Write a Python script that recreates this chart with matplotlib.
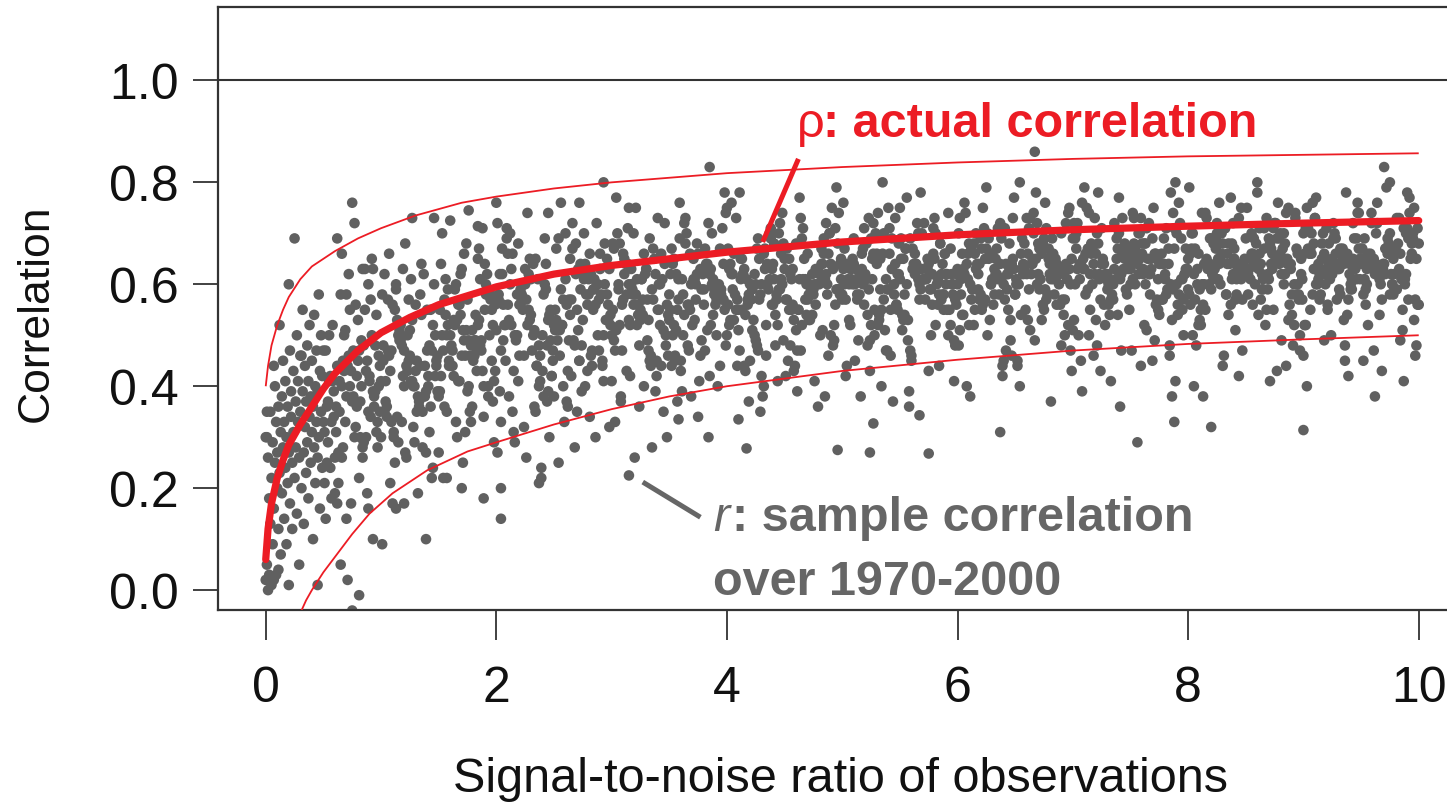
import matplotlib
matplotlib.use("Agg")
import matplotlib.pyplot as plt
import numpy as np

plt.rcParams['font.family'] = ['Liberation Sans', 'DejaVu Sans']

# ---------------- curves ----------------
rho_x = [0.0, 0.02, 0.05, 0.1, 0.15, 0.2, 0.3, 0.4, 0.5, 0.6, 0.8, 1.0, 1.25, 1.5,
         2.0, 2.5, 3.0, 4.0, 5.0, 6.0, 7.0, 8.0, 9.0, 10.0]
rho_y = [0.06, 0.12, 0.17, 0.22, 0.255, 0.285, 0.325, 0.36, 0.395, 0.425, 0.47, 0.505,
         0.535, 0.56, 0.595, 0.62, 0.637, 0.663, 0.683, 0.697, 0.707, 0.714, 0.72, 0.725]

upper_x = [0.0, 0.02, 0.05, 0.1, 0.15, 0.2, 0.3, 0.4, 0.6, 0.8, 1.0, 1.3, 1.7, 2.0,
           2.5, 3.0, 4.0, 5.0, 6.0, 7.0, 8.0, 9.0, 10.0]
upper_y = [0.40, 0.44, 0.48, 0.52, 0.55, 0.575, 0.61, 0.635, 0.665, 0.69, 0.71, 0.735,
           0.76, 0.772, 0.788, 0.80, 0.818, 0.83, 0.839, 0.846, 0.851, 0.854, 0.857]

lower_x = [0.30, 0.35, 0.4, 0.5, 0.6, 0.75, 0.9, 1.1, 1.4, 1.75, 2.0, 2.5, 3.0, 3.5,
           4.0, 5.0, 6.0, 7.0, 8.0, 9.0, 10.0]
lower_y = [-0.045, -0.02, 0.0, 0.035, 0.065, 0.11, 0.15, 0.19, 0.235, 0.272, 0.29,
           0.325, 0.355, 0.38, 0.40, 0.43, 0.452, 0.47, 0.483, 0.492, 0.50]

# ---------------- scatter points (signal-to-noise, sample correlation) ----------------
pts_00 = [(0.17,.24),(0.03,.03),(0.41,.36),(0.28,.41),(0.09,.33),(0.35,.23),(0.22,.39),(0.46,.58),(0.00,.30),(0.14,.19),(0.31,.46),(0.06,.29),(0.39,.25),(0.25,.69),(0.11,.36),(0.48,.35),(0.19,.21),(0.33,.27),(0.02,.26),(0.44,.47),(0.27,.15),(0.08,.40),(0.37,.41),(0.13,.07),(0.49,.42),(0.21,.47),(0.04,.13),(0.30,.35),(0.42,.28),(0.16,.33),(0.01,.35),(0.36,.48),(0.24,.31),(0.10,.20),(0.45,.39),(0.29,.26),(0.07,.44),(0.40,.31),(0.18,.30),(0.34,.44),(0.12,.52),(0.47,.43),(0.23,.12),(0.05,.22),(0.38,.34),(0.26,.37),(0.15,.28),(0.43,.21),(0.32,.39),(0.20,.60),
          (0.29,.05),(0.12,.23),(0.44,.33),(0.05,.01),(0.37,.18),(0.20,.27),(0.48,.50),(0.01,.05),(0.33,.13),(0.16,.14),(0.41,.10),(0.08,.25),(0.25,.22),(0.46,.30),(0.03,.18),(0.30,.46),(0.18,.09),(0.39,.38),(0.10,.27),(0.49,.24),(0.22,.34),(0.35,.37),(0.00,.02),(0.27,.50),(0.14,.38),(0.43,.40),(0.06,.09),(0.32,.55),(0.19,.36),(0.47,.16),(0.09,.03),(0.38,.52),(0.24,.43),(0.02,.00),(0.45,.26),(0.15,.45),(0.28,.33),(0.40,.45),(0.11,.12),(0.34,.32),(0.21,.17),(0.04,.35),(0.42,.54),(0.26,.28),(0.13,.31),(0.36,.29),(0.07,.16),(0.31,.20),(0.17,.41),(0.23,.25),
          (0.20,.01),(0.45,.01),(0.07,.02),(0.11,.04),(0.01,.30)]
pts_05 = [(0.73,.40),(0.67,.28),(0.81,.47),(0.57,.33),(0.86,.55),(0.63,.21),(0.76,.38),(0.92,.50),(0.54,.29),(0.71,.44),(0.84,.26),(0.61,.36),(0.90,.42),(0.78,.32),(0.65,.58),(0.95,.39),(0.52,.47),(0.74,.17),(0.88,.45),(0.59,.34),(0.97,.28),(0.69,.51),(0.82,.37),(0.56,.24),(0.93,.63),(0.64,.41),(0.77,.30),(0.50,.33),(0.85,.48),(0.72,.62),(0.99,.44),(0.60,.19),(0.89,.35),(0.68,.43),(0.80,.53),(0.53,.36),(0.96,.31),(0.75,.76),(0.58,.41),(0.91,.57),(0.66,.26),(0.83,.40),(0.51,.21),(0.98,.46),(0.70,.38),(0.87,.30),(0.55,.50),(0.94,.36),(0.62,.69),(0.79,.42),
          (0.67,.45),(0.53,.25),(0.91,.34),(0.78,.56),(0.59,.39),(0.85,.29),(0.72,.46),(0.96,.54),(0.50,.47),(0.64,.35),(0.81,.22),(0.56,.42),(0.89,.60),(0.75,.37),(0.61,.31),(0.98,.40),(0.69,.33),(0.83,.49),(0.52,.14),(0.94,.38),(0.77,.72),(0.58,.52),(0.87,.43),(0.63,.27),(0.99,.35),(0.71,.02),(0.54,.37),(0.80,.45),(0.93,.10),(0.66,.40),(0.51,.31),(0.86,.63),(0.74,.43),(0.60,.26),(0.95,.48),(0.79,.36),(0.57,.18),(0.90,.41),(0.68,.50),(0.84,.28),(0.62,.44),(0.97,.33),(0.73,.55),(0.55,.41),(0.88,.19),(0.76,.47),(0.65,.05),(0.93,.39),(0.82,.30),(0.70,.58),
          (0.75,-.04),(0.81,-.01),(0.62,.17),(0.70,.14),(0.89,.16),(0.66,.66),(0.92,.65),(0.84,.63)]
pts_10 = [(1.20,.47),(1.32,.38),(1.43,.55),(1.15,.29),(1.26,.61),(1.38,.44),(1.05,.36),(1.23,.50),(1.47,.42),(1.12,.25),(1.34,.58),(1.18,.33),(1.40,.47),(1.07,.66),(1.29,.40),(1.45,.52),(1.10,.17),(1.24,.45),(1.36,.35),(1.01,.09),(1.16,.49),(1.42,.31),(1.30,.56),(1.04,.41),(1.21,.27),(1.49,.46),(1.13,.60),(1.37,.38),(1.08,.43),(1.27,.53),(1.44,.22),(1.02,.48),(1.33,.36),(1.19,.63),(1.48,.44),(1.11,.30),(1.25,.51),(1.39,.39),(1.06,.57),(1.31,.45),(1.14,.34),(1.00,.41),(1.46,.73),(1.22,.26),(1.35,.54),(1.09,.47),(1.28,.32),(1.41,.40),(1.03,.62),(1.17,.49),
          (1.23,.43),(1.17,.52),(1.31,.35),(1.07,.46),(1.36,.28),(1.13,.59),(1.26,.41),(1.42,.48),(1.04,.37),(1.21,.68),(1.34,.44),(1.11,.31),(1.40,.55),(1.28,.40),(1.15,.50),(1.45,.24),(1.02,.45),(1.24,.57),(1.38,.38),(1.09,.33),(1.47,.50),(1.19,.42),(1.32,.19),(1.06,.47),(1.43,.36),(1.14,.53),(1.27,.41),(1.00,.30),(1.35,.64),(1.22,.44),(1.49,.39),(1.10,.56),(1.39,.27),(1.18,.48),(1.30,.43),(1.03,.35),(1.46,.60),(1.25,.46),(1.08,.21),(1.41,.42),(1.16,.51),(1.33,.37),(1.01,.58),(1.48,.45),(1.20,.40),(1.37,.62),(1.05,.34),(1.44,.47),(1.12,.55),(1.29,.29),
          (1.39,.10),(1.13,.16),(1.20,.17),(1.27,.73)]
pts_15 = [(1.79,.51),(1.62,.44),(1.94,.58),(1.55,.36),(1.87,.49),(1.70,.63),(1.98,.41),(1.51,.55),(1.83,.47),(1.66,.30),(1.91,.60),(1.58,.52),(1.75,.39),(1.96,.45),(1.53,.70),(1.80,.48),(1.68,.56),(1.89,.34),(1.60,.50),(1.99,.43),(1.72,.66),(1.85,.53),(1.50,.27),(1.77,.46),(1.64,.59),(1.93,.40),(1.56,.54),(1.82,.49),(1.69,.62),(1.97,.37),(1.59,.45),(1.88,.71),(1.74,.51),(1.52,.42),(1.95,.57),(1.65,.33),(1.78,.48),(1.90,.64),(1.61,.44),(1.84,.52),(1.71,.25),(1.54,.47),(1.92,.58),(1.76,.40),(1.63,.53),(1.86,.61),(1.57,.35),(1.81,.49),(1.67,.56),(1.73,.46),
          (1.70,.46),(1.82,.54),(1.93,.38),(1.65,.60),(1.76,.49),(1.88,.43),(1.55,.57),(1.73,.31),(1.97,.52),(1.62,.47),(1.84,.65),(1.68,.41),(1.90,.55),(1.57,.50),(1.79,.36),(1.95,.58),(1.60,.44),(1.74,.68),(1.86,.48),(1.51,.39),(1.66,.53),(1.92,.62),(1.80,.45),(1.54,.22),(1.71,.51),(1.99,.56),(1.63,.42),(1.87,.47),(1.58,.59),(1.77,.35),(1.94,.50),(1.52,.64),(1.83,.43),(1.69,.54),(1.98,.29),(1.61,.48),(1.75,.57),(1.89,.40),(1.56,.61),(1.81,.46),(1.64,.52),(1.50,.38),(1.96,.55),(1.72,.49),(1.85,.67),(1.59,.44),(1.78,.33),(1.91,.58),(1.53,.50),(1.67,.41),
          (1.60,.725),(1.76,.745),(1.84,.714),(1.89,.18),(1.70,.20),(1.57,.22)]
pts_20 = [(2.17,.49),(2.03,.62),(2.41,.38),(2.28,.55),(2.09,.71),(2.35,.44),(2.22,.58),(2.46,.30),(2.00,.51),(2.14,.66),(2.31,.47),(2.06,.56),(2.39,.24),(2.25,.60),(2.11,.53),(2.48,.42),(2.19,.68),(2.33,.36),(2.02,.57),(2.44,.48),(2.27,.74),(2.08,.52),(2.37,.40),(2.13,.63),(2.49,.45),(2.21,.59),(2.04,.33),(2.30,.54),(2.42,.69),(2.16,.50),(2.01,.27),(2.36,.61),(2.24,.46),(2.10,.56),(2.45,.39),(2.29,.65),(2.07,.52),(2.40,.43),(2.18,.58),(2.34,.35),(2.12,.70),(2.47,.49),(2.23,.55),(2.05,.62),(2.38,.41),(2.26,.57),(2.15,.31),(2.43,.64),(2.32,.50),(2.20,.46),
          (2.29,.53),(2.12,.60),(2.44,.37),(2.05,.67),(2.37,.48),(2.20,.56),(2.48,.42),(2.01,.72),(2.33,.51),(2.16,.29),(2.41,.58),(2.08,.45),(2.25,.63),(2.46,.54),(2.03,.39),(2.30,.61),(2.18,.50),(2.39,.22),(2.10,.66),(2.49,.47),(2.22,.57),(2.35,.44),(2.00,.76),(2.27,.52),(2.14,.35),(2.43,.59),(2.06,.49),(2.32,.64),(2.19,.41),(2.47,.55),(2.09,.69),(2.38,.46),(2.24,.32),(2.02,.58),(2.45,.53),(2.15,.43),(2.28,.62),(2.40,.50),(2.11,.38),(2.34,.65),(2.21,.56),(2.04,.47),(2.42,.60),(2.26,.26),(2.13,.52),
          (2.04,.14),(2.04,.20),(2.37,.21),(2.45,.74)]
pts_25 = [(2.79,.56),(2.62,.43),(2.94,.68),(2.55,.51),(2.87,.60),(2.70,.35),(2.98,.63),(2.51,.55),(2.83,.47),(2.66,.72),(2.91,.58),(2.58,.40),(2.75,.53),(2.96,.65),(2.53,.49),(2.80,.61),(2.68,.28),(2.89,.57),(2.60,.70),(2.99,.52),(2.72,.45),(2.85,.59),(2.50,.38),(2.77,.64),(2.64,.54),(2.93,.50),(2.56,.76),(2.82,.46),(2.69,.62),(2.97,.56),(2.59,.33),(2.88,.60),(2.74,.48),(2.52,.67),(2.95,.53),(2.65,.42),(2.78,.58),(2.90,.63),(2.61,.37),(2.84,.55),(2.71,.51),(2.54,.69),(2.92,.44),(2.76,.61),(2.63,.57),(2.86,.30),(2.57,.52),(2.81,.66),(2.67,.49),(2.73,.59),
          (2.70,.55),(2.82,.62),(2.93,.41),(2.65,.57),(2.76,.70),(2.88,.50),(2.55,.46),(2.73,.64),(2.97,.53),(2.62,.36),(2.84,.59),(2.68,.48),(2.90,.66),(2.57,.52),(2.79,.43),(2.93,.80),(2.60,.61),(2.74,.39),(2.86,.56),(2.51,.51),(2.66,.67),(2.92,.45),(2.80,.58),(2.54,.25),(2.71,.63),(2.99,.54),(2.63,.49),(2.87,.72),(2.58,.57),(2.77,.40),(2.94,.60),(2.52,.53),(2.83,.44),(2.69,.68),(2.98,.32),(2.61,.56),(2.75,.62),(2.89,.47),(2.56,.59),(2.81,.34),(2.64,.65),(2.50,.52),(2.96,.58),(2.72,.45),(2.85,.61),
          (2.72,.76)]
pts_30 = [(3.20,.58),(3.32,.47),(3.43,.66),(3.15,.53),(3.26,.61),(3.38,.39),(3.05,.70),(3.23,.56),(3.47,.50),(3.12,.64),(3.34,.44),(3.18,.59),(3.40,.73),(3.07,.52),(3.29,.62),(3.45,.35),(3.10,.57),(3.24,.48),(3.36,.67),(3.01,.55),(3.16,.42),(3.42,.60),(3.30,.63),(3.04,.51),(3.21,.75),(3.49,.46),(3.13,.58),(3.37,.65),(3.08,.38),(3.27,.54),(3.44,.61),(3.02,.49),(3.33,.69),(3.19,.56),(3.48,.30),(3.11,.62),(3.25,.53),(3.39,.45),(3.06,.60),(3.31,.57),(3.14,.71),(3.00,.41),(3.46,.64),(3.22,.52),(3.35,.59),(3.09,.47),(3.28,.66),(3.41,.55),(3.03,.33),(3.17,.60),
          (3.23,.54),(3.17,.63),(3.31,.49),(3.07,.68),(3.36,.57),(3.13,.43),(3.26,.61),(3.42,.52),(3.04,.77),(3.21,.58),(3.34,.46),(3.11,.65),(3.40,.55),(3.28,.40),(3.15,.60),(3.45,.51),(3.02,.67),(3.24,.36),(3.38,.62),(3.09,.56),(3.47,.48),(3.19,.70),(3.32,.53),(3.06,.59),(3.43,.44),(3.14,.64),(3.27,.57),(3.00,.50),(3.35,.28),(3.22,.61),(3.49,.54),(3.10,.66),(3.39,.42),(3.18,.58),(3.30,.63),(3.03,.47),(3.46,.72),(3.25,.55),(3.08,.37),(3.41,.60),(3.16,.52),(3.33,.45),(3.01,.68),(3.48,.56),(3.20,.26),
          (3.15,.225),(3.15,.75)]
pts_35 = [(3.73,.60),(3.67,.47),(3.81,.67),(3.57,.55),(3.86,.63),(3.63,.72),(3.76,.41),(3.92,.58),(3.54,.52),(3.71,.65),(3.84,.30),(3.61,.61),(3.90,.56),(3.78,.49),(3.65,.70),(3.95,.59),(3.52,.44),(3.74,.62),(3.88,.54),(3.59,.76),(3.97,.57),(3.69,.38),(3.82,.64),(3.56,.51),(3.93,.60),(3.64,.68),(3.77,.46),(3.50,.58),(3.85,.62),(3.72,.53),(3.99,.74),(3.60,.43),(3.89,.59),(3.68,.66),(3.80,.56),(3.53,.50),(3.96,.71),(3.75,.34),(3.58,.61),(3.91,.57),(3.66,.48),(3.83,.64),(3.51,.55),(3.98,.78),(3.70,.52),(3.87,.60),(3.55,.45),(3.94,.67),(3.62,.58),(3.79,.62),
          (3.67,.56),(3.53,.64),(3.91,.50),(3.78,.59),(3.59,.69),(3.85,.42),(3.72,.61),(3.96,.57),(3.50,.53),(3.64,.73),(3.81,.47),(3.56,.62),(3.89,.58),(3.75,.66),(3.61,.39),(3.98,.55),(3.69,.60),(3.83,.51),(3.52,.67),(3.94,.44),(3.77,.63),(3.58,.57),(3.87,.70),(3.63,.54),(3.99,.48),(3.71,.61),(3.54,.65),(3.80,.59),(3.92,.40),(3.66,.56),(3.51,.62),(3.86,.52),(3.74,.68),(3.60,.45),(3.95,.58),(3.79,.63),(3.57,.37),(3.90,.60),(3.68,.55),(3.84,.72),(3.62,.50),(3.97,.64),(3.73,.57),(3.55,.46),(3.88,.61),
          (3.58,.335),(3.85,.83)]
pts_40 = [(4.17,.61),(4.03,.53),(4.41,.68),(4.28,.57),(4.09,.44),(4.35,.64),(4.22,.59),(4.46,.72),(4.00,.50),(4.14,.62),(4.31,.38),(4.06,.66),(4.39,.56),(4.25,.60),(4.11,.47),(4.48,.74),(4.19,.58),(4.33,.63),(4.02,.52),(4.44,.41),(4.27,.69),(4.08,.55),(4.37,.61),(4.13,.65),(4.49,.49),(4.21,.57),(4.04,.76),(4.30,.60),(4.42,.54),(4.16,.43),(4.01,.67),(4.36,.59),(4.24,.62),(4.10,.51),(4.45,.70),(4.29,.35),(4.07,.58),(4.40,.64),(4.18,.56),(4.34,.46),(4.12,.61),(4.47,.66),(4.23,.53),(4.05,.59),(4.38,.71),(4.26,.48),(4.15,.63),(4.43,.57),(4.32,.40),(4.20,.60),
          (4.29,.58),(4.12,.65),(4.44,.52),(4.05,.62),(4.37,.70),(4.20,.45),(4.48,.60),(4.01,.56),(4.33,.67),(4.16,.54),(4.41,.61),(4.08,.73),(4.25,.49),(4.46,.59),(4.03,.64),(4.30,.42),(4.18,.57),(4.39,.63),(4.10,.55),(4.49,.68),(4.22,.51),(4.35,.60),(4.00,.75),(4.27,.47),(4.14,.62),(4.43,.58),(4.06,.53),(4.32,.66),(4.19,.37),(4.47,.61),(4.09,.57),(4.38,.69),(4.24,.50),(4.02,.63),(4.45,.59),(4.15,.44),(4.28,.65),(4.40,.56),(4.11,.78),(4.34,.52),(4.21,.60),(4.04,.62),(4.42,.48),(4.26,.67),(4.13,.55),
          (4.10,.335),(4.17,.278)]
pts_45 = [(4.79,.63),(4.62,.55),(4.94,.71),(4.55,.48),(4.87,.60),(4.70,.66),(4.98,.58),(4.51,.42),(4.83,.64),(4.66,.61),(4.91,.75),(4.58,.53),(4.75,.59),(4.96,.68),(4.53,.45),(4.80,.62),(4.68,.57),(4.89,.70),(4.60,.51),(4.99,.65),(4.72,.60),(4.85,.38),(4.50,.63),(4.77,.56),(4.64,.73),(4.93,.49),(4.56,.61),(4.82,.67),(4.69,.54),(4.97,.59),(4.59,.44),(4.88,.66),(4.74,.62),(4.52,.57),(4.95,.79),(4.65,.52),(4.78,.60),(4.90,.64),(4.61,.47),(4.84,.69),(4.71,.58),(4.54,.55),(4.92,.63),(4.76,.41),(4.63,.61),(4.86,.72),(4.57,.56),(4.81,.50),(4.67,.65),(4.73,.59),
          (4.70,.57),(4.82,.64),(4.93,.52),(4.65,.69),(4.76,.60),(4.88,.46),(4.55,.62),(4.73,.58),(4.97,.74),(4.62,.55),(4.84,.66),(4.68,.61),(4.90,.50),(4.57,.63),(4.79,.36),(4.95,.59),(4.60,.68),(4.74,.54),(4.86,.62),(4.51,.57),(4.66,.71),(4.92,.48),(4.80,.60),(4.54,.65),(4.71,.53),(4.99,.61),(4.63,.77),(4.87,.58),(4.58,.43),(4.77,.63),(4.94,.56),(4.52,.67),(4.83,.51),(4.69,.60),(4.98,.64),(4.61,.39),(4.75,.58),(4.89,.70),(4.56,.55),(4.81,.62),(4.64,.47),(4.50,.65),(4.96,.59),(4.72,.53),(4.85,.61),
          (4.96,.275)]
pts_50 = [(5.20,.62),(5.32,.54),(5.43,.69),(5.15,.58),(5.26,.65),(5.38,.47),(5.05,.61),(5.23,.73),(5.47,.56),(5.12,.63),(5.34,.40),(5.18,.67),(5.40,.59),(5.07,.52),(5.29,.70),(5.45,.60),(5.10,.64),(5.24,.49),(5.36,.57),(5.01,.76),(5.16,.62),(5.42,.55),(5.30,.66),(5.04,.44),(5.21,.61),(5.49,.68),(5.13,.58),(5.37,.51),(5.08,.63),(5.27,.72),(5.44,.37),(5.02,.60),(5.33,.65),(5.19,.56),(5.48,.62),(5.11,.45),(5.25,.69),(5.39,.59),(5.06,.53),(5.31,.74),(5.14,.61),(5.00,.57),(5.46,.64),(5.22,.48),(5.35,.66),(5.09,.60),(5.28,.55),(5.41,.71),(5.03,.42),(5.17,.63),
          (5.23,.59),(5.17,.66),(5.31,.52),(5.07,.63),(5.36,.70),(5.13,.57),(5.26,.61),(5.42,.46),(5.04,.64),(5.21,.68),(5.34,.55),(5.11,.60),(5.40,.75),(5.28,.50),(5.15,.62),(5.45,.58),(5.02,.67),(5.24,.43),(5.38,.61),(5.09,.65),(5.47,.56),(5.19,.71),(5.32,.53),(5.06,.60),(5.43,.63),(5.14,.49),(5.27,.66),(5.00,.58),(5.35,.80),(5.22,.54),(5.49,.62),(5.10,.69),(5.39,.47),(5.18,.60),(5.30,.64),(5.03,.57),(5.46,.73),(5.25,.52),(5.08,.61),(5.41,.66),(5.16,.38),(5.33,.59),(5.01,.63),(5.48,.55),(5.20,.68),
          (5.24,.27),(5.27,.327)]
pts_55 = [(5.73,.63),(5.67,.57),(5.81,.70),(5.57,.49),(5.86,.62),(5.63,.66),(5.76,.59),(5.92,.74),(5.54,.54),(5.71,.61),(5.84,.44),(5.61,.67),(5.90,.60),(5.78,.56),(5.65,.72),(5.95,.62),(5.52,.51),(5.74,.65),(5.88,.58),(5.59,.69),(5.97,.41),(5.69,.63),(5.82,.60),(5.56,.77),(5.93,.55),(5.64,.64),(5.77,.50),(5.50,.61),(5.85,.68),(5.72,.57),(5.99,.62),(5.60,.46),(5.89,.66),(5.68,.59),(5.80,.73),(5.53,.53),(5.96,.60),(5.75,.64),(5.58,.36),(5.91,.62),(5.66,.70),(5.83,.56),(5.51,.65),(5.98,.48),(5.70,.61),(5.87,.58),(5.55,.67),(5.94,.52),(5.62,.63),(5.79,.71),
          (5.67,.60),(5.53,.65),(5.91,.55),(5.78,.62),(5.59,.47),(5.85,.68),(5.72,.61),(5.96,.58),(5.50,.75),(5.64,.64),(5.81,.52),(5.56,.60),(5.89,.66),(5.75,.43),(5.61,.63),(5.98,.57),(5.69,.70),(5.83,.61),(5.52,.54),(5.94,.67),(5.77,.59),(5.58,.39),(5.87,.64),(5.63,.62),(5.99,.56),(5.71,.72),(5.54,.58),(5.80,.65),(5.92,.50),(5.66,.61),(5.51,.69),(5.86,.57),(5.74,.63),(5.60,.45),(5.95,.60),(5.79,.66),(5.57,.53),(5.90,.62),(5.68,.78),(5.84,.58),(5.62,.64),(5.97,.49),(5.73,.61),(5.55,.67),(5.88,.55),
          (5.75,.268),(5.67,.343)]
pts_60 = [(6.17,.64),(6.03,.58),(6.41,.71),(6.28,.53),(6.09,.66),(6.35,.61),(6.22,.75),(6.46,.49),(6.00,.63),(6.14,.68),(6.31,.56),(6.06,.62),(6.39,.44),(6.25,.67),(6.11,.60),(6.48,.73),(6.19,.57),(6.33,.65),(6.02,.51),(6.44,.62),(6.27,.69),(6.08,.40),(6.37,.64),(6.13,.59),(6.49,.77),(6.21,.55),(6.04,.66),(6.30,.61),(6.42,.47),(6.16,.63),(6.01,.70),(6.36,.58),(6.24,.65),(6.10,.52),(6.45,.68),(6.29,.60),(6.07,.74),(6.40,.45),(6.18,.62),(6.34,.67),(6.12,.57),(6.47,.64),(6.23,.71),(6.05,.54),(6.38,.61),(6.26,.50),(6.15,.66),(6.43,.59),(6.32,.63),(6.20,.69),
          (6.29,.60),(6.12,.67),(6.44,.55),(6.05,.63),(6.37,.72),(6.20,.58),(6.48,.65),(6.01,.48),(6.33,.62),(6.16,.70),(6.41,.57),(6.08,.64),(6.25,.79),(6.46,.53),(6.03,.61),(6.30,.66),(6.18,.59),(6.39,.42),(6.10,.68),(6.49,.63),(6.22,.56),(6.35,.71),(6.00,.60),(6.27,.65),(6.14,.52),(6.43,.62),(6.06,.76),(6.32,.58),(6.19,.64),(6.47,.46),(6.09,.61),(6.38,.69),(6.24,.57),(6.02,.73),(6.45,.63),(6.15,.55),(6.28,.66),(6.40,.60),(6.11,.38),(6.34,.62),(6.21,.67),(6.04,.54),(6.42,.64),(6.26,.70),(6.13,.59),
          (6.37,.31)]
pts_65 = [(6.79,.65),(6.62,.59),(6.94,.72),(6.55,.54),(6.87,.63),(6.70,.68),(6.98,.47),(6.51,.61),(6.83,.66),(6.66,.74),(6.91,.57),(6.58,.63),(6.75,.69),(6.96,.52),(6.53,.60),(6.80,.64),(6.68,.78),(6.89,.56),(6.60,.62),(6.99,.43),(6.72,.67),(6.85,.61),(6.50,.58),(6.77,.71),(6.64,.64),(6.93,.50),(6.56,.63),(6.82,.66),(6.69,.60),(6.97,.75),(6.59,.55),(6.88,.62),(6.74,.68),(6.52,.45),(6.95,.61),(6.65,.65),(6.78,.58),(6.90,.70),(6.61,.53),(6.84,.63),(6.71,.67),(6.54,.40),(6.92,.62),(6.76,.59),(6.63,.73),(6.86,.56),(6.57,.64),(6.81,.61),(6.67,.49),(6.73,.66),
          (6.70,.62),(6.82,.69),(6.93,.57),(6.65,.64),(6.76,.76),(6.88,.60),(6.55,.66),(6.73,.53),(6.97,.63),(6.62,.71),(6.84,.58),(6.68,.65),(6.90,.48),(6.57,.62),(6.79,.67),(6.95,.61),(6.60,.73),(6.74,.56),(6.86,.64),(6.51,.60),(6.66,.70),(6.92,.54),(6.80,.62),(6.54,.80),(6.71,.59),(6.99,.65),(6.63,.51),(6.87,.63),(6.58,.68),(6.77,.57),(6.94,.64),(6.52,.44),(6.83,.61),(6.69,.72),(6.98,.60),(6.61,.66),(6.75,.55),(6.89,.63),(6.56,.69),(6.81,.37),(6.64,.62),(6.50,.58),(6.96,.74),(6.72,.61),(6.85,.65),
          (6.67,.86)]
pts_70 = [(7.20,.66),(7.32,.60),(7.43,.73),(7.15,.55),(7.26,.64),(7.38,.69),(7.05,.50),(7.23,.62),(7.47,.67),(7.12,.75),(7.34,.58),(7.18,.64),(7.40,.70),(7.07,.45),(7.29,.61),(7.45,.65),(7.10,.79),(7.24,.57),(7.36,.63),(7.01,.53),(7.16,.68),(7.42,.62),(7.30,.59),(7.04,.72),(7.21,.48),(7.49,.64),(7.13,.67),(7.37,.61),(7.08,.76),(7.27,.56),(7.44,.63),(7.02,.69),(7.33,.41),(7.19,.62),(7.48,.66),(7.11,.58),(7.25,.71),(7.39,.54),(7.06,.64),(7.31,.60),(7.14,.74),(7.00,.51),(7.46,.63),(7.22,.68),(7.35,.57),(7.09,.65),(7.28,.62),(7.41,.36),(7.03,.67),(7.17,.60),
          (7.23,.61),(7.17,.67),(7.31,.56),(7.07,.64),(7.36,.72),(7.13,.59),(7.26,.65),(7.42,.47),(7.04,.63),(7.21,.70),(7.34,.57),(7.11,.66),(7.40,.77),(7.28,.52),(7.15,.62),(7.45,.68),(7.02,.60),(7.24,.43),(7.38,.65),(7.09,.63),(7.47,.58),(7.19,.73),(7.32,.54),(7.06,.61),(7.43,.66),(7.14,.50),(7.27,.64),(7.00,.69),(7.35,.60),(7.22,.78),(7.49,.55),(7.10,.63),(7.39,.67),(7.18,.46),(7.30,.62),(7.03,.70),(7.46,.59),(7.25,.64),(7.08,.39),(7.41,.61),(7.16,.66),(7.33,.57),(7.01,.72),(7.48,.63),(7.20,.53)]
pts_75 = [(7.73,.65),(7.67,.58),(7.81,.71),(7.57,.62),(7.86,.53),(7.63,.68),(7.76,.64),(7.92,.76),(7.54,.60),(7.71,.66),(7.84,.48),(7.61,.63),(7.90,.70),(7.78,.57),(7.65,.65),(7.95,.61),(7.52,.74),(7.74,.55),(7.88,.67),(7.59,.44),(7.97,.62),(7.69,.69),(7.82,.59),(7.56,.64),(7.93,.72),(7.64,.51),(7.77,.66),(7.50,.60),(7.85,.78),(7.72,.56),(7.99,.63),(7.60,.68),(7.89,.41),(7.68,.65),(7.80,.61),(7.53,.73),(7.96,.57),(7.75,.64),(7.58,.70),(7.91,.54),(7.66,.62),(7.83,.67),(7.51,.47),(7.98,.63),(7.70,.75),(7.87,.59),(7.55,.66),(7.94,.61),(7.62,.52),(7.79,.69),
          (7.67,.62),(7.53,.68),(7.91,.56),(7.78,.64),(7.59,.73),(7.85,.60),(7.72,.66),(7.96,.50),(7.50,.63),(7.64,.71),(7.81,.58),(7.56,.65),(7.89,.80),(7.75,.54),(7.61,.62),(7.98,.67),(7.69,.45),(7.83,.64),(7.52,.61),(7.94,.69),(7.77,.57),(7.58,.65),(7.87,.74),(7.63,.60),(7.99,.63),(7.71,.49),(7.54,.67),(7.80,.62),(7.92,.58),(7.66,.72),(7.51,.65),(7.86,.38),(7.74,.61),(7.60,.66),(7.95,.55),(7.79,.64),(7.57,.70),(7.90,.60),(7.68,.63),(7.84,.46),(7.62,.68),(7.97,.62),(7.73,.57),(7.55,.65),(7.88,.71),
          (7.56,.29),(7.88,.33)]
pts_80 = [(8.17,.63),(8.03,.70),(8.41,.57),(8.28,.65),(8.09,.52),(8.35,.68),(8.22,.61),(8.46,.75),(8.00,.59),(8.14,.64),(8.31,.46),(8.06,.67),(8.39,.62),(8.25,.72),(8.11,.55),(8.48,.63),(8.19,.69),(8.33,.58),(8.02,.66),(8.44,.42),(8.27,.64),(8.08,.60),(8.37,.77),(8.13,.56),(8.49,.65),(8.21,.62),(8.04,.50),(8.30,.68),(8.42,.61),(8.16,.73),(8.01,.58),(8.36,.64),(8.24,.67),(8.10,.53),(8.45,.62),(8.29,.70),(8.07,.48),(8.40,.65),(8.18,.60),(8.34,.66),(8.12,.74),(8.47,.57),(8.23,.63),(8.05,.40),(8.38,.68),(8.26,.61),(8.15,.55),(8.43,.64),(8.32,.71),(8.20,.59),
          (8.29,.66),(8.12,.60),(8.44,.73),(8.05,.62),(8.37,.56),(8.20,.69),(8.48,.64),(8.01,.79),(8.33,.58),(8.16,.65),(8.41,.51),(8.08,.63),(8.25,.70),(8.46,.61),(8.03,.67),(8.30,.44),(8.18,.64),(8.39,.72),(8.10,.59),(8.49,.62),(8.22,.68),(8.35,.54),(8.00,.65),(8.27,.76),(8.14,.60),(8.43,.63),(8.06,.57),(8.32,.71),(8.19,.64),(8.47,.47),(8.09,.66),(8.38,.61),(8.24,.69),(8.02,.56),(8.45,.63),(8.15,.74),(8.28,.60),(8.40,.67),(8.11,.52),(8.34,.64),(8.21,.62),(8.04,.70),(8.42,.58),(8.26,.65),(8.13,.38),
          (8.20,.32)]
pts_85 = [(8.79,.64),(8.62,.71),(8.94,.58),(8.55,.66),(8.87,.53),(8.70,.69),(8.98,.62),(8.51,.75),(8.83,.60),(8.66,.67),(8.91,.48),(8.58,.65),(8.75,.72),(8.96,.57),(8.53,.63),(8.80,.70),(8.68,.55),(8.89,.64),(8.60,.78),(8.99,.61),(8.72,.67),(8.85,.44),(8.50,.63),(8.77,.69),(8.64,.59),(8.93,.73),(8.56,.56),(8.82,.65),(8.69,.62),(8.97,.50),(8.59,.68),(8.88,.64),(8.74,.71),(8.52,.58),(8.95,.66),(8.65,.61),(8.78,.76),(8.90,.54),(8.61,.63),(8.84,.68),(8.71,.41),(8.54,.65),(8.92,.60),(8.76,.72),(8.63,.57),(8.86,.64),(8.57,.69),(8.81,.62),(8.67,.52),(8.73,.66),
          (8.70,.61),(8.82,.67),(8.93,.74),(8.65,.59),(8.76,.65),(8.88,.56),(8.55,.70),(8.73,.63),(8.97,.47),(8.62,.66),(8.84,.62),(8.68,.73),(8.90,.58),(8.57,.64),(8.79,.69),(8.95,.60),(8.60,.80),(8.74,.55),(8.86,.65),(8.51,.63),(8.66,.71),(8.92,.52),(8.80,.66),(8.54,.61),(8.71,.68),(8.99,.57),(8.63,.64),(8.87,.75),(8.58,.60),(8.77,.43),(8.94,.67),(8.52,.62),(8.83,.70),(8.69,.59),(8.98,.65),(8.61,.54),(8.75,.72),(8.89,.63),(8.56,.66),(8.81,.49),(8.64,.62),(8.50,.69),(8.96,.58),(8.72,.64),(8.85,.74)]
pts_90 = [(9.20,.65),(9.32,.58),(9.43,.72),(9.15,.63),(9.26,.69),(9.38,.54),(9.05,.66),(9.23,.61),(9.47,.76),(9.12,.60),(9.34,.67),(9.18,.49),(9.40,.64),(9.07,.70),(9.29,.57),(9.45,.63),(9.10,.73),(9.24,.62),(9.36,.45),(9.01,.66),(9.16,.68),(9.42,.59),(9.30,.64),(9.04,.71),(9.21,.55),(9.49,.65),(9.13,.61),(9.37,.78),(9.08,.58),(9.27,.63),(9.44,.69),(9.02,.52),(9.33,.66),(9.19,.62),(9.48,.74),(9.11,.60),(9.25,.65),(9.39,.42),(9.06,.67),(9.31,.63),(9.14,.57),(9.00,.70),(9.46,.61),(9.22,.64),(9.35,.53),(9.09,.68),(9.28,.66),(9.41,.60),(9.03,.75),(9.17,.62),
          (9.23,.63),(9.17,.70),(9.31,.59),(9.07,.66),(9.36,.48),(9.13,.64),(9.26,.72),(9.42,.61),(9.04,.67),(9.21,.56),(9.34,.65),(9.11,.77),(9.40,.62),(9.28,.69),(9.15,.58),(9.45,.64),(9.02,.71),(9.24,.50),(9.38,.66),(9.09,.63),(9.47,.74),(9.19,.60),(9.32,.67),(9.06,.55),(9.43,.65),(9.14,.62),(9.27,.70),(9.00,.46),(9.35,.64),(9.22,.68),(9.49,.61),(9.10,.73),(9.39,.57),(9.18,.66),(9.30,.63),(9.03,.40),(9.46,.69),(9.25,.62),(9.08,.76),(9.41,.59),(9.16,.65),(9.33,.64),(9.01,.52),(9.48,.67),(9.20,.71),
          (9.00,.314)]
pts_95 = [(9.73,.66),(9.67,.60),(9.81,.73),(9.57,.64),(9.86,.55),(9.63,.70),(9.76,.62),(9.92,.77),(9.54,.59),(9.71,.67),(9.84,.49),(9.61,.65),(9.90,.71),(9.78,.58),(9.65,.63),(9.95,.69),(9.52,.45),(9.74,.66),(9.88,.61),(9.59,.74),(9.97,.57),(9.69,.64),(9.82,.68),(9.56,.52),(9.93,.65),(9.64,.72),(9.77,.60),(9.50,.67),(9.85,.62),(9.72,.79),(9.99,.56),(9.60,.64),(9.89,.70),(9.68,.43),(9.80,.66),(9.53,.61),(9.96,.75),(9.75,.58),(9.58,.65),(9.91,.69),(9.66,.54),(9.83,.63),(9.51,.67),(9.98,.48),(9.70,.64),(9.87,.71),(9.55,.60),(9.94,.66),(9.62,.38),(9.79,.62),
          (9.67,.63),(9.53,.69),(9.91,.57),(9.78,.65),(9.59,.72),(9.85,.61),(9.72,.67),(9.96,.53),(9.50,.64),(9.64,.76),(9.81,.59),(9.56,.66),(9.89,.62),(9.75,.70),(9.61,.47),(9.98,.65),(9.69,.63),(9.83,.73),(9.52,.58),(9.94,.68),(9.77,.60),(9.58,.66),(9.87,.41),(9.63,.64),(9.99,.71),(9.71,.62),(9.54,.56),(9.80,.67),(9.92,.74),(9.66,.61),(9.51,.65),(9.86,.51),(9.74,.68),(9.60,.63),(9.95,.70),(9.79,.59),(9.57,.64),(9.90,.78),(9.68,.57),(9.84,.66),(9.62,.62),(9.97,.46),(9.73,.69),(9.55,.63),(9.88,.60),
          (9.70,.83),(9.75,.80),(10.00,.56),(10.00,.68)]

x_ticks = [0, 2, 4, 6, 8, 10]
y_ticks = [0.0, 0.2, 0.4, 0.6, 0.8, 1.0]
y_tick_labels = ["0.0", "0.2", "0.4", "0.6", "0.8", "1.0"]

RED = "#ec1c24"
GREY_PT = "#606060"
GREY_TXT = "#666666"
AXC = "#333333"

all_pts = (pts_00 + pts_05 + pts_10 + pts_15 + pts_20 + pts_25 + pts_30 + pts_35 +
           pts_40 + pts_45 + pts_50 + pts_55 + pts_60 + pts_65 + pts_70 + pts_75 +
           pts_80 + pts_85 + pts_90 + pts_95)
sx = np.array([p[0] for p in all_pts])
sy = np.array([p[1] for p in all_pts])

W, H = 1447, 804
fig = plt.figure(figsize=(W / 100, H / 100), dpi=100)
L, R, T, B = 218, 1466, 8, 611
ax = fig.add_axes([L / W, (H - B) / H, (R - L) / W, (B - T) / H])

ax.set_xlim(-0.414, 10.41)
ax.set_ylim(-0.039, 1.144)

ax.scatter(sx, sy, s=58, color=GREY_PT, edgecolors='none', zorder=2)

ax.plot(upper_x, upper_y, color=RED, lw=1.3, zorder=3, solid_capstyle='butt')
ax.plot(lower_x, lower_y, color=RED, lw=1.3, zorder=3, solid_capstyle='butt')
ax.plot(rho_x, rho_y, color=RED, lw=5.2, zorder=4, solid_capstyle='round')

ax.axhline(1.0, color=AXC, lw=1.5, zorder=1)

# annotation leader lines
ax.plot([4.62, 4.31], [0.846, 0.683], color=RED, lw=3.6, zorder=5, solid_capstyle='butt')
ax.plot([3.27, 3.77], [0.212, 0.143], color=GREY_TXT, lw=3.6, zorder=5, solid_capstyle='butt')

ax.text(4.61, 0.891, "\u03c1", color=RED, fontsize=35, ha='left', va='baseline', zorder=6)
ax.text(4.83, 0.891, ": actual correlation", color=RED, fontsize=35, fontweight='bold',
        ha='left', va='baseline', zorder=6)
ax.text(3.88, 0.118, "r", color=GREY_TXT, fontsize=35, fontstyle='italic',
        ha='left', va='baseline', zorder=6)
ax.text(4.04, 0.118, ": sample correlation", color=GREY_TXT, fontsize=35, fontweight='bold',
        ha='left', va='baseline', zorder=6)
ax.text(3.88, -0.008, "over 1970-2000", color=GREY_TXT, fontsize=35, fontweight='bold',
        ha='left', va='baseline', zorder=6)

for side in ['left', 'top', 'bottom']:
    ax.spines[side].set_color(AXC)
    ax.spines[side].set_linewidth(1.6)
ax.spines['right'].set_visible(False)

ax.set_xticks(x_ticks)
ax.set_xticklabels([str(v) for v in x_ticks])
ax.set_yticks(y_ticks)
ax.set_yticklabels(y_tick_labels)
ax.tick_params(axis='x', direction='out', length=21.5, width=1.3, color=AXC,
               labelsize=36, pad=18, labelcolor='#111111')
ax.tick_params(axis='y', direction='out', length=18, width=1.3, color=AXC,
               labelsize=36, pad=10, labelcolor='#111111')

ax.set_xlabel("Signal-to-noise ratio of observations", fontsize=35, color='#111111', va='baseline')
ax.xaxis.set_label_coords(0.4985, (B - 792) / (B - T))
ax.set_ylabel("Correlation", fontsize=32, color='#111111', va='center')
ax.yaxis.set_label_coords((36 - L) / (R - L), 0.494)

fig.savefig("out.png", dpi=100)
